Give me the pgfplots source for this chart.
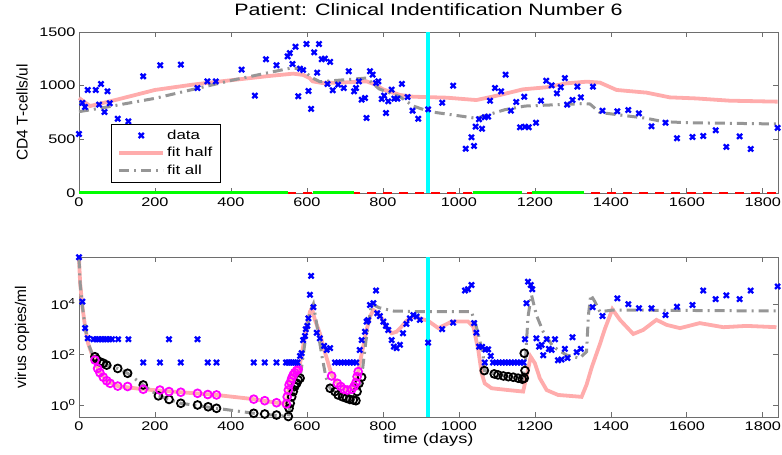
\documentclass[border=0pt]{standalone}
\usepackage{fontspec}
\setmainfont{Liberation Sans}[FakeStretch=1.3]
\newfontfamily\plainfont{Liberation Sans}
\usepackage{graphicx}
\usepackage{pgfplots}
\pgfplotsset{compat=1.18}
\definecolor{fithalf}{RGB}{255,172,172}
\definecolor{fitall}{RGB}{150,150,150}
\definecolor{datablue}{RGB}{0,0,255}
\definecolor{axgray}{RGB}{110,110,110}
\definecolor{cyanline}{RGB}{0,255,255}
\definecolor{magcirc}{RGB}{255,0,255}
\definecolor{greenseg}{RGB}{0,255,0}
\definecolor{redseg}{RGB}{255,0,0}
\pgfplotsset{
  common/.style={
    scale only axis, width=699pt, xmin=0, xmax=1840,
    xtick={0,200,...,1800},
    tick align=inside, tick pos=both, xticklabel pos=lower, yticklabel pos=left,
    major tick length=5pt,
    axis line style={axgray, line width=0.8pt},
    every tick/.style={axgray, line width=0.7pt},
    tick label style={font=\fontsize{12.5}{14}\selectfont},
    /pgf/number format/1000 sep={},
    /pgf/number format/assume math mode=true,
    clip=false,
    xticklabel style={yshift=-1pt},
  },
  datax/.style={datablue, only marks, mark=x, mark size=3.6pt, mark options={line width=2.3pt}},
  fh/.style={fithalf, line width=3.8pt, no marks},
  fa/.style={fitall, line width=3pt, no marks, dash pattern=on 10pt off 5pt on 2pt off 5pt},
  legend image code/.code={\draw[mark repeat=2,mark phase=2,#1] plot coordinates {(0pt,0pt) (22pt,0pt) (44pt,0pt)};},
}
\begin{document}
\begin{tikzpicture}
\useasboundingbox (-79pt,-38pt) rectangle (703pt,417pt);
% ---------------- bottom axis ----------------
\begin{axis}[common, at={(0pt,0pt)}, anchor=south west, height=160pt,
  ymode=log, ymin=0.335, ymax=7.2e5, ytick={1,100,10000},
  yticklabels={10\textsuperscript{0},10\textsuperscript{2},10\textsuperscript{4}},
  yminorticks=false,
  xlabel={time (days)},
  xlabel style={at={(axis description cs:0.5,0)}, anchor=base, yshift=-27pt, font=\fontsize{14}{16}\selectfont},
  ylabel={virus copies/ml},
  ylabel style={at={(axis description cs:-0.0815,0.5)}, anchor=center, font=\plainfont\fontsize{15.5}{17}\selectfont},
]
\addplot[fh] coordinates {
(0,631000) (3,66000) (9,7760) (16,1260) (24,275) (33,112) (42,51) (55,19) (73,9.1) (102,5.6)
(169,4.2) (268,3.2) (362,2.5) (460,1.7) (520,1.23) (546,1.1) (553,6.2) (564,15.5) (577,26)
(582,45) (590,204) (599,1260) (608,4900) (613,6760) (621,2340) (634,692) (643,204) (656,45)
(665,15.8) (680,7.2) (706,3.9) (724,5.4) (735,21) (739,45) (748,204) (757,933) (766,3160)
(775,5750) (783,4900) (797,2690) (810,1100) (823,692) (836,794) (849,1260) (862,2140)
(880,3160) (897,2690) (919,2140) (946,1100) (981,2000) (1024,2000) (1038,1260) (1051,151)
(1060,17.8) (1068,7.2) (1086,4.6) (1130,3.9) (1169,3.4) (1178,13.2) (1189,81) (1200,45)
(1213,11.5) (1231,3.9) (1261,2.5) (1323,2.1) (1336,6.3) (1350,32) (1371,251) (1384,1000)
(1404,6170) (1424,2340) (1459,646) (1485,933) (1520,2340) (1547,1480) (1582,1100)
(1634,1740) (1696,1200) (1757,1350) (1836,1200)
};
\addplot[fa] coordinates {
(0,631000) (3,66000) (9,7760) (16,1260) (24,275) (33,126) (42,81) (73,38) (102,28) (128,18)
(169,6.2) (209,2.3) (268,1.17) (362,0.74) (460,0.47) (551,0.35) (556,1.17) (568,5.4)
(582,11.5) (595,316) (608,5010) (617,10000) (628,1000) (639,95) (650,12.6) (661,4.6)
(694,2.1) (729,1.48) (744,12.6) (755,316) (770,10000) (790,7080) (827,5250) (880,5010)
(1033,5010) (1046,1260) (1064,100) (1067,23) (1093,17) (1130,13.2) (1167,10.5) (1174,32)
(1182,3160) (1191,22900) (1204,3630) (1222,794) (1248,204) (1283,95) (1318,71) (1336,129)
(1341,3630) (1347,22900) (1358,12300) (1371,4900) (1406,5750) (1839,5250)
};
\addplot[black, only marks, mark=o, mark size=3.9pt, mark options={line width=1.8pt}] coordinates {
(42,81) (46,65) (55,51) (64,45) (73,38) (102,28) (128,18) (169,6.2) (209,2.3) (237,1.66)
(268,1.17) (312,1.0) (340,0.85) (362,0.74) (460,0.47) (489,0.44) (520,0.40) (551,0.35)
(553,0.74) (556,1.17) (560,2.1) (564,3.4) (568,5.4) (573,7.2) (577,9.8) (582,11.5)
(661,4.6) (674,3.4) (682,2.5) (694,2.1) (704,1.86) (713,1.66) (722,1.58) (729,1.48)
(732,3.4) (737,7.2) (744,12.6)
(1067,23) (1093,17) (1103,15.5) (1117,14.1) (1130,13.2) (1143,12.6) (1156,11.5) (1167,10.5)
(1172,11.5) (1174,23) (1172,112)
};
\addplot[magcirc, only marks, mark=o, mark size=3.9pt, mark options={line width=1.8pt}] coordinates {
(42,60) (49,28) (55,19) (64,12.6) (73,9.1) (82,7.2) (102,5.6) (128,5.4) (169,4.2) (213,3.9)
(237,3.4) (268,3.2) (312,2.9) (339,2.6) (362,2.5) (460,1.7) (489,1.48) (520,1.23) (546,1.1)
(548,2.1) (551,3.9) (553,6.2) (557,8.3) (560,11.5) (564,15.5) (568,19) (573,23) (577,26)
(665,14.1) (680,7.2) (689,5.4) (697,4.2) (706,3.9) (718,4.2) (724,5.4) (729,7.6) (732,13.2) (735,21)
};
\addplot[datax] coordinates {
(0,708000) (9,12300) (16,1100) (23,437)
(38,400) (45,400) (52,400) (59,400) (66,400) (73,400) (80,400) (87,400) (103,400) (130,400)
(169,48) (213,48) (237,400) (268,48) (312,400) (339,48) (362,48)
(460,48) (489,48) (520,48) (545,48) (550,48) (555,48) (560,48) (565,48) (570,48) (575,48)
(582,87) (586,112) (590,372) (595,537) (597,1000) (601,1350) (604,2690) (608,22900)
(611,129000) (617,7410) (626,724) (634,437) (645,219) (652,151) (661,178)
(674,48) (682,48) (690,48) (698,48) (706,48) (714,48) (722,48) (730,48)
(739,151) (744,372) (753,794) (757,2000) (761,2290) (766,9120) (775,10700) (782,33900)
(785,4270) (792,3310) (801,2000) (808,1350) (814,933) (823,372) (829,204) (836,178)
(845,240) (853,692) (862,1620) (871,2690) (880,3630) (889,3160) (897,2340)
(919,295) (956,1000) (985,1820) (1016,33900) (1024,38000) (1033,56200) (1040,1740)
(1046,724) (1053,204) (1061,200) (1070,158) (1077,158) (1084,87) (1068,48)
(1090,48) (1098,48) (1106,48) (1114,48) (1122,48) (1130,48) (1138,48) (1146,48) (1154,48)
(1162,48) (1170,48) (1174,400) (1178,10700) (1182,75900) (1189,56200) (1193,38000)
(1204,437) (1211,204) (1218,240) (1222,93) (1231,400) (1237,166) (1244,151) (1253,400)
(1261,59) (1270,63) (1279,166) (1286,72) (1299,479) (1310,123) (1321,166) (1352,7410)
(1378,3310) (1417,16600) (1446,9770) (1474,6760) (1507,6760) (1544,3630) (1574,7760)
(1615,9120) (1643,33900) (1676,15500) (1704,21900) (1739,15500) (1768,33900) (1839,49000)
};
\addplot[cyanline, line width=4pt] coordinates {(918,0.335) (918,7.2e5)};
\end{axis}
% ---------------- top axis ----------------
\begin{axis}[common, at={(0pt,224pt)}, anchor=south west, height=161pt,
  ymin=0, ymax=1500, ytick={0,500,1000,1500},
  title={Patient: Clinical Indentification Number 6},
  title style={at={(axis description cs:0.5,1)}, anchor=base, yshift=10pt, font=\fontsize{16.5}{18}\selectfont},
  ylabel={CD4 T-cells/ul},
  ylabel style={at={(axis description cs:-0.0815,0.5)}, anchor=center, font=\plainfont\fontsize{15.5}{17}\selectfont},
  legend style={at={(axis description cs:0.046,0.068)}, anchor=south west, draw=black,
    fill=white, font=\fontsize{13}{15}\selectfont, row sep=2.5pt, inner xsep=6pt, inner ysep=4pt},
  legend cell align=left,
]
\addlegendimage{datax}
\addlegendentry{data}
\addlegendimage{fh}
\addlegendentry{fit half}
\addlegendimage{fa}
\addlegendentry{fit all}
\addplot[redseg, line width=2.5pt, dash pattern=on 9pt off 7pt, forget plot] coordinates {(0,0) (1840,0)};
\addplot[greenseg, line width=3pt, forget plot] coordinates {(0,0) (550,0)};
\addplot[greenseg, line width=3pt, forget plot] coordinates {(616,0) (724,0)};
\addplot[greenseg, line width=3pt, forget plot] coordinates {(1036,0) (1165,0)};
\addplot[greenseg, line width=3pt, forget plot] coordinates {(1193,0) (1329,0)};
\addplot[fh, forget plot] coordinates {
(0,885) (29,810) (100,870) (200,960) (300,1010) (406,1053) (500,1090) (564,1112) (590,1100)
(607,1071) (615,1040) (640,1025) (700,1030) (757,1040) (780,1010) (800,966) (845,913)
(880,897) (968,888) (1046,866) (1108,913) (1169,966) (1231,985) (1283,1022) (1336,1037)
(1371,1029) (1415,960) (1494,935) (1555,891) (1625,881) (1713,860) (1839,851)
};
\addplot[fa, forget plot] coordinates {
(0,758) (55,789) (200,882) (406,1053) (555,1162) (582,1162) (615,1071) (634,1037) (757,1071)
(790,970) (845,897) (880,810) (923,758) (1046,696) (1121,776) (1174,810) (1260,823)
(1330,833) (1345,829) (1371,750) (1494,696) (1537,665) (1600,655) (1839,643)
};
\addplot[datax, forget plot] coordinates {
(0,550) (9,839) (16,801) (23,960) (44,960) (53,823) (58,1016) (67,755) (75,947) (81,836)
(102,692) (130,668) (169,1087) (214,1190) (268,1196) (312,978) (338,1040) (360,1040)
(428,1149) (463,907) (492,1246) (520,1190) (549,1273) (555,1304) (562,1202) (570,1363)
(577,901) (582,1158) (590,1146) (599,1388) (604,950) (611,783) (619,1311) (627,1121)
(632,1388) (639,1246) (647,1252) (654,1016) (661,1221) (668,957) (682,1009) (697,978)
(710,1134) (724,947) (729,978) (737,1040) (744,869) (753,885) (757,699) (766,1134)
(773,1102) (782,1025) (788,1040) (797,876) (803,907) (808,745) (814,854) (823,963)
(830,879) (838,879) (850,1016) (865,894) (878,767) (893,692) (919,780) (956,841) (985,1000)
(1018,413) (1033,519) (1040,438) (1044,618) (1053,687) (1061,599) (1068,705) (1077,711)
(1082,860) (1095,978) (1111,947) (1123,1102) (1137,767) (1151,848) (1161,612) (1172,897)
(1174,618) (1184,612) (1203,655) (1216,860) (1230,1046) (1244,1003) (1258,929) (1268,985)
(1279,1071) (1285,823) (1299,866) (1312,991) (1321,891) (1353,991) (1378,767) (1417,761)
(1446,773) (1474,742) (1507,621) (1544,655) (1574,510) (1615,522) (1643,531) (1676,584)
(1704,429) (1739,528) (1768,410) (1839,606)
};
\addplot[cyanline, line width=4pt, forget plot] coordinates {(918,0) (918,1500)};
\end{axis}
\end{tikzpicture}
\end{document}
